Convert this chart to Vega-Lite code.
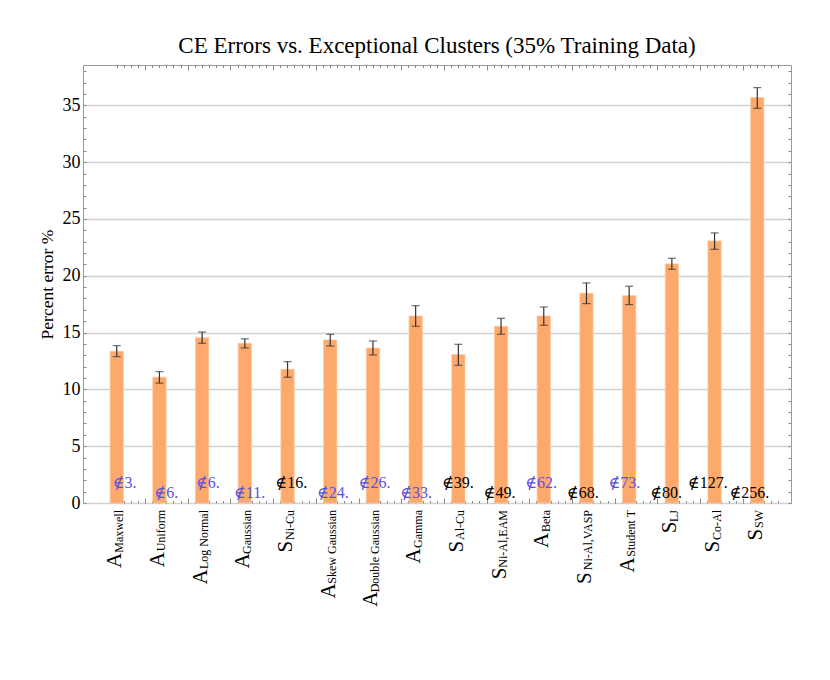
{
  "$schema": "https://vega.github.io/schema/vega-lite/v6.json",
  "width": 708,
  "height": 438,
  "autosize": {"type": "none"},
  "padding": {"left": 83, "top": 65, "right": 39, "bottom": 177},
  "background": "white",
  "title": {"text": "CE Errors vs. Exceptional Clusters (35% Training Data)", "font": "Liberation Serif", "fontSize": 23, "fontWeight": "normal", "color": "black", "anchor": "middle", "baseline": "alphabetic", "offset": -11},
  "config": {"font": "Liberation Serif", "view": {"stroke": "#9a9a9a", "strokeWidth": 1}},
  "data": {"values": [
    {"label": "A Maxwell", "letter": "A", "sub": "Maxwell", "value": 13.35, "lo": 12.88, "hi": 13.85, "excl": "∉3."},
    {"label": "A Uniform", "letter": "A", "sub": "Uniform", "value": 11.07, "lo": 10.55, "hi": 11.56, "excl": "∉6."},
    {"label": "A Log Normal", "letter": "A", "sub": "Log Normal", "value": 14.55, "lo": 14.06, "hi": 15.05, "excl": "∉6."},
    {"label": "A Gaussian", "letter": "A", "sub": "Gaussian", "value": 14.06, "lo": 13.65, "hi": 14.45, "excl": "∉11."},
    {"label": "S Ni-Cu", "letter": "S", "sub": "Ni-Cu", "value": 11.77, "lo": 11.07, "hi": 12.44, "excl": "∉16."},
    {"label": "A Skew Gaussian", "letter": "A", "sub": "Skew Gaussian", "value": 14.35, "lo": 13.82, "hi": 14.85, "excl": "∉24."},
    {"label": "A Double Gaussian", "letter": "A", "sub": "Double Gaussian", "value": 13.64, "lo": 13.03, "hi": 14.26, "excl": "∉26."},
    {"label": "A Gamma", "letter": "A", "sub": "Gamma", "value": 16.46, "lo": 15.55, "hi": 17.37, "excl": "∉33."},
    {"label": "S Al-Cu", "letter": "S", "sub": "Al-Cu", "value": 13.06, "lo": 12.12, "hi": 13.97, "excl": "∉39."},
    {"label": "S Ni-Al,EAM", "letter": "S", "sub": "Ni-Al,EAM", "value": 15.55, "lo": 14.85, "hi": 16.26, "excl": "∉49."},
    {"label": "A Beta", "letter": "A", "sub": "Beta", "value": 16.46, "lo": 15.64, "hi": 17.25, "excl": "∉62."},
    {"label": "S Ni-Al,VASP", "letter": "S", "sub": "Ni-Al,VASP", "value": 18.46, "lo": 17.55, "hi": 19.37, "excl": "∉68."},
    {"label": "A Student T", "letter": "A", "sub": "Student T", "value": 18.25, "lo": 17.46, "hi": 19.08, "excl": "∉73."},
    {"label": "S LJ", "letter": "S", "sub": "LJ", "value": 21.04, "lo": 20.57, "hi": 21.54, "excl": "∉80."},
    {"label": "S Co-Al", "letter": "S", "sub": "Co-Al", "value": 23.06, "lo": 22.33, "hi": 23.77, "excl": "∉127."},
    {"label": "S SW", "letter": "S", "sub": "SW", "value": 35.68, "lo": 34.74, "hi": 36.56, "excl": "∉256."}
  ]},
  "resolve": {"scale": {"x": "independent", "y": "independent"}, "axis": {"x": "independent", "y": "independent"}},
  "layer": [
    {
      "mark": {"type": "bar", "fill": "#fca96b", "stroke": "#fbc8a0", "strokeWidth": 0.8},
      "encoding": {
        "x": {"field": "label", "type": "nominal", "sort": null, "scale": {"type": "band", "paddingInner": 0.69, "paddingOuter": 0.635}, "axis": null},
        "y": {"field": "value", "type": "quantitative", "scale": {"domain": [0, 38.55], "nice": false, "zero": false},
          "axis": {"orient": "left", "values": [0, 5, 10, 15, 20, 25, 30, 35], "grid": true, "gridColor": "#d2d2d2", "gridWidth": 1.4, "ticks": false, "domain": false,
            "labelFont": "Liberation Serif", "labelFontSize": 18, "labelColor": "black", "labelPadding": 3,
            "title": "Percent error %", "titleFont": "Liberation Serif", "titleFontSize": 17.5, "titleFontWeight": "normal", "titleColor": "black", "titlePadding": 6}}
      }
    },
    {
      "mark": {"type": "rule", "color": "#333333", "strokeWidth": 1.2},
      "encoding": {
        "x": {"field": "label", "type": "nominal", "sort": null, "scale": {"type": "band", "paddingInner": 0.69, "paddingOuter": 0.635}, "axis": null},
        "y": {"field": "lo", "type": "quantitative", "scale": {"domain": [0, 38.55], "nice": false, "zero": false}, "axis": null},
        "y2": {"field": "hi"}
      }
    },
    {
      "mark": {"type": "tick", "color": "#333333", "size": 8, "thickness": 1.2},
      "encoding": {
        "x": {"field": "label", "type": "nominal", "sort": null, "scale": {"type": "band", "paddingInner": 0.69, "paddingOuter": 0.635}, "axis": null},
        "y": {"field": "hi", "type": "quantitative", "scale": {"domain": [0, 38.55], "nice": false, "zero": false}, "axis": null}
      }
    },
    {
      "mark": {"type": "tick", "color": "#333333", "size": 8, "thickness": 1.2},
      "encoding": {
        "x": {"field": "label", "type": "nominal", "sort": null, "scale": {"type": "band", "paddingInner": 0.69, "paddingOuter": 0.635}, "axis": null},
        "y": {"field": "lo", "type": "quantitative", "scale": {"domain": [0, 38.55], "nice": false, "zero": false}, "axis": null}
      }
    },
    {
      "transform": [{"window": [{"op": "row_number", "as": "k"}]}, {"filter": "datum.k % 2 == 1"}],
      "mark": {"type": "text", "font": "Liberation Serif, DejaVu Serif", "fontSize": 16, "align": "center", "baseline": "alphabetic", "dy": -15},
      "encoding": {
        "x": {"field": "label", "type": "nominal", "scale": {"type": "point", "padding": 1, "domain": ["A Maxwell", "A Uniform", "A Log Normal", "A Gaussian", "S Ni-Cu", "A Skew Gaussian", "A Double Gaussian", "A Gamma", "S Al-Cu", "S Ni-Al,EAM", "A Beta", "S Ni-Al,VASP", "A Student T", "S LJ", "S Co-Al", "S SW"]}, "axis": null},
        "y": {"datum": 0, "type": "quantitative", "scale": {"domain": [0, 38.55], "nice": false, "zero": false}, "axis": null},
        "text": {"field": "excl"},
        "color": {"field": "letter", "type": "nominal", "scale": {"domain": ["A", "S"], "range": ["#5b4fe0", "#000000"]}, "legend": null}
      }
    },
    {
      "transform": [{"window": [{"op": "row_number", "as": "k"}]}, {"filter": "datum.k % 2 == 0"}],
      "mark": {"type": "text", "font": "Liberation Serif, DejaVu Serif", "fontSize": 16, "align": "center", "baseline": "alphabetic", "dy": -5},
      "encoding": {
        "x": {"field": "label", "type": "nominal", "scale": {"type": "point", "padding": 1, "domain": ["A Maxwell", "A Uniform", "A Log Normal", "A Gaussian", "S Ni-Cu", "A Skew Gaussian", "A Double Gaussian", "A Gamma", "S Al-Cu", "S Ni-Al,EAM", "A Beta", "S Ni-Al,VASP", "A Student T", "S LJ", "S Co-Al", "S SW"]}, "axis": null},
        "y": {"datum": 0, "type": "quantitative", "scale": {"domain": [0, 38.55], "nice": false, "zero": false}, "axis": null},
        "text": {"field": "excl"},
        "color": {"field": "letter", "type": "nominal", "scale": {"domain": ["A", "S"], "range": ["#5b4fe0", "#000000"]}, "legend": null}
      }
    },
    {
      "mark": {"type": "text", "font": "Liberation Serif", "fontSize": 12, "align": "right", "baseline": "alphabetic", "angle": 270, "dx": -7, "dy": 6, "color": "black"},
      "encoding": {
        "x": {"field": "label", "type": "nominal", "sort": null, "scale": {"type": "band", "paddingInner": 0.69, "paddingOuter": 0.635}, "axis": null},
        "y": {"datum": 0, "type": "quantitative", "scale": {"domain": [0, 38.55], "nice": false, "zero": false}, "axis": null},
        "text": {"field": "sub"}
      }
    },
    {
      "mark": {"type": "text", "font": "Liberation Serif", "fontSize": 21, "align": "right", "baseline": "alphabetic", "angle": 270, "dy": 4.5, "color": "black",
        "dx": {"expr": "-(7.5 + 12*(0.5*length(datum.sub) - 0.235*(length(datum.sub)-length(replace(datum.sub, regexp('[ijlt ,.]','g'), ''))) - 0.15*(length(datum.sub)-length(replace(datum.sub, regexp('[frsIJ-]','g'), ''))) - 0.056*(length(datum.sub)-length(replace(datum.sub, regexp('[aecz]','g'), ''))) + 0.21*(length(datum.sub)-length(replace(datum.sub, regexp('[A-DGHKNOQRUVXYw]','g'), ''))) + 0.08*(length(datum.sub)-length(replace(datum.sub, regexp('[EFLPSTZ]','g'), ''))) + 0.39*(length(datum.sub)-length(replace(datum.sub, regexp('[M]','g'), ''))) + 0.28*(length(datum.sub)-length(replace(datum.sub, regexp('[m]','g'), ''))) + 0.44*(length(datum.sub)-length(replace(datum.sub, regexp('[W]','g'), '')))))"}},
      "encoding": {
        "x": {"field": "label", "type": "nominal", "sort": null, "scale": {"type": "band", "paddingInner": 0.69, "paddingOuter": 0.635}, "axis": null},
        "y": {"datum": 0, "type": "quantitative", "scale": {"domain": [0, 38.55], "nice": false, "zero": false}, "axis": null},
        "text": {"field": "letter"}
      }
    },
    {
      "data": {"values": [{}]},
      "mark": {"type": "rule", "opacity": 0},
      "encoding": {
        "x": {"datum": 0, "type": "quantitative", "scale": {"domain": [-8.712, 90.77], "nice": false, "zero": false},
          "axis": {"orient": "top", "values": [-4,-3,-2,-1,0,1,2,3,4,5,6,7,8,9,10,11,12,13,14,15,16,17,18,19,20,21,22,23,24,25,26,27,28,29,30,31,32,33,34,35,36,37,38,39,40,41,42,43,44,45,46,47,48,49,50,51,52,53,54,55,56,57,58,59,60,61,62,63,64,65,66,67,68,69,70,71,72,73,74,75,76,77,78,79,80,81,82,83,84,85,86,87,88,89],
            "tickSize": -2.5, "tickColor": "#8a8a8a", "tickWidth": 1, "labels": false, "domain": false, "grid": false, "title": null}}
      }
    },
    {
      "data": {"values": [{}]},
      "mark": {"type": "rule", "opacity": 0},
      "encoding": {
        "x": {"datum": 0, "type": "quantitative", "scale": {"domain": [-8.712, 90.77], "nice": false, "zero": false},
          "axis": {"orient": "top", "values": [0,6,12,18,24,30,36,42,48,54,60,66,72,78,84],
            "tickSize": -5, "tickColor": "#8a8a8a", "tickWidth": 1, "labels": false, "domain": false, "grid": false, "title": null}}
      }
    },
    {
      "data": {"values": [{}]},
      "mark": {"type": "rule", "opacity": 0},
      "encoding": {
        "x": {"datum": 0, "type": "quantitative", "scale": {"domain": [-8.712, 90.77], "nice": false, "zero": false},
          "axis": {"orient": "bottom", "values": [-4,-3,-2,-1,0,1,2,3,4,5,6,7,8,9,10,11,12,13,14,15,16,17,18,19,20,21,22,23,24,25,26,27,28,29,30,31,32,33,34,35,36,37,38,39,40,41,42,43,44,45,46,47,48,49,50,51,52,53,54,55,56,57,58,59,60,61,62,63,64,65,66,67,68,69,70,71,72,73,74,75,76,77,78,79,80,81,82,83,84,85,86,87,88,89],
            "tickSize": -2.5, "tickColor": "#8a8a8a", "tickWidth": 1, "labels": false, "domain": false, "grid": false, "title": null}}
      }
    },
    {
      "data": {"values": [{}]},
      "mark": {"type": "rule", "opacity": 0},
      "encoding": {
        "x": {"datum": 0, "type": "quantitative", "scale": {"domain": [-8.712, 90.77], "nice": false, "zero": false},
          "axis": {"orient": "bottom", "values": [0,6,12,18,24,30,36,42,48,54,60,66,72,78,84],
            "tickSize": -5, "tickColor": "#8a8a8a", "tickWidth": 1, "labels": false, "domain": false, "grid": false, "title": null}}
      }
    },
    {
      "data": {"values": [{}]},
      "mark": {"type": "rule", "opacity": 0},
      "encoding": {
        "y": {"datum": 0, "type": "quantitative", "scale": {"domain": [0, 38.55], "nice": false, "zero": false},
          "axis": {"orient": "left", "values": [0,1,2,3,4,5,6,7,8,9,10,11,12,13,14,15,16,17,18,19,20,21,22,23,24,25,26,27,28,29,30,31,32,33,34,35,36,37,38],
            "tickSize": -3, "tickColor": "#8a8a8a", "tickWidth": 1, "labels": false, "domain": false, "grid": false, "title": null}}
      }
    },
    {
      "data": {"values": [{}]},
      "mark": {"type": "rule", "opacity": 0},
      "encoding": {
        "y": {"datum": 0, "type": "quantitative", "scale": {"domain": [0, 38.55], "nice": false, "zero": false},
          "axis": {"orient": "right", "values": [0,1,2,3,4,5,6,7,8,9,10,11,12,13,14,15,16,17,18,19,20,21,22,23,24,25,26,27,28,29,30,31,32,33,34,35,36,37,38],
            "tickSize": -3, "tickColor": "#8a8a8a", "tickWidth": 1, "labels": false, "domain": false, "grid": false, "title": null}}
      }
    }
  ]
}
